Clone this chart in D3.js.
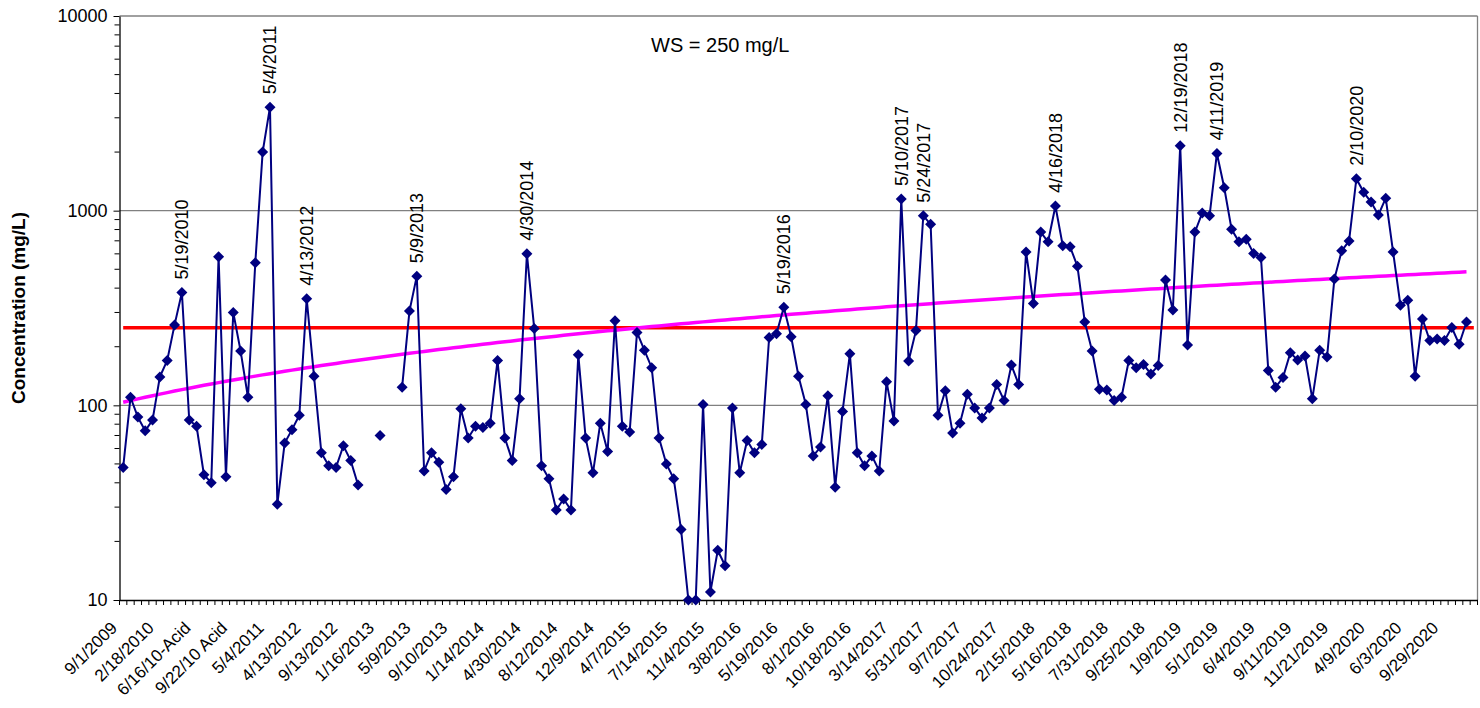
<!DOCTYPE html>
<html>
<head>
<meta charset="utf-8">
<script src="https://cdn.jsdelivr.net/npm/d3@7"></script>
<style>
  body { margin: 0; background: #fff; }
  text { font-family: "Liberation Sans", Arial, sans-serif; fill: #000; }
</style>
</head>
<body>
<div id="chart"></div>
<script>
// category axis labels, one every 5 samples
const tickLabels = ["9/1/2009", "2/18/2010", "6/16/10-Acid", "9/22/10 Acid", "5/4/2011", "4/13/2012",
  "9/13/2012", "1/16/2013", "5/9/2013", "9/10/2013", "1/14/2014", "4/30/2014", "8/12/2014",
  "12/9/2014", "4/7/2015", "7/14/2015", "11/4/2015", "3/8/2016", "5/19/2016", "8/1/2016",
  "10/18/2016", "3/14/2017", "5/31/2017", "9/7/2017", "10/24/2017", "2/15/2018", "5/16/2018",
  "7/31/2018", "9/25/2018", "1/9/2019", "5/1/2019", "6/4/2019", "9/11/2019", "11/21/2019",
  "4/9/2020", "6/3/2020", "9/29/2020"];
const labelStep = 5;

// concentration (mg/L), one per sample, null = no sample
const values = [
  48, 110, 87, 74, 84, 140, 170, 259, 380, 84,
  78, 44, 40, 580, 43, 300, 190, 110, 540, 2000,
  3400, 31, 64, 75, 89, 353, 141, 57, 49, 48,
  62, 52, 39, null, null, 70, null, null, 124, 305,
  461, 46, 57, 51, 37, 43, 96, 68, 78, 77,
  81, 170, 68, 52, 108, 600, 248, 49, 42, 29,
  33, 29, 182, 68, 45, 81, 58, 272, 78, 73,
  237, 192, 156, 68, 50, 42, 23, 10, 10, 101,
  11, 18, 15, 97, 45, 66, 57, 63, 223, 233,
  319, 225, 141, 101, 55, 61, 112, 38, 93, 184,
  57, 49, 55, 46, 132, 83, 1148, 169, 242, 942,
  851, 89, 119, 72, 81, 114, 97, 86, 97, 128,
  106, 161, 128, 614, 334, 776, 692, 1057, 661, 652,
  518, 268, 190, 121, 120, 106, 110, 170, 156, 162,
  145, 160, 440, 309, 2158, 204, 776, 973, 942, 1968,
  1312, 802, 692, 714, 603, 575, 151, 124, 139, 186,
  171, 179, 108, 192, 177, 445, 622, 698, 1459, 1242,
  1107, 951, 1159, 614, 327, 347, 141, 278, 215, 219,
  215, 251, 206, 268, null
];

// water standard
const wsLimit = 250;
const wsText = "WS = 250 mg/L";

// labelled peaks
const peakIndex = [8, 20, 25, 40, 55, 90, 106, 109, 127, 144, 149, 168];
const peakLabels = ["5/19/2010", "5/4/2011", "4/13/2012", "5/9/2013", "4/30/2014", "5/19/2016",
  "5/10/2017", "5/24/2017", "4/16/2018", "12/19/2018", "4/11/2019", "2/10/2020"];

const yTicks = [10, 100, 1000, 10000];

const W = 1480, H = 708;
const plot = {left: 119.5, right: 1477.5, top: 16, bottom: 600};

const svg = d3.select("#chart")
  .append("svg")
    .attr("width", W)
    .attr("height", H);

svg.append("rect").attr("width", W).attr("height", H).attr("fill", "#fff");

const idx = d3.range(values.length);

const x = d3.scaleBand()
  .domain(idx)
  .range([plot.left, plot.right])
  .padding(0);
const cx = i => x(i) + x.bandwidth() / 2;

const y = d3.scaleLog()
  .domain([10, 10000])
  .range([plot.bottom, plot.top]);

// gridlines + plot border
svg.append("g")
  .selectAll("line")
  .data(yTicks.slice(1))
  .join("line")
    .attr("x1", plot.left)
    .attr("x2", plot.right)
    .attr("y1", d => y(d))
    .attr("y2", d => y(d))
    .attr("stroke", "#808080")
    .attr("stroke-width", 1.3);
svg.append("line")
  .attr("x1", plot.right).attr("x2", plot.right)
  .attr("y1", plot.top).attr("y2", plot.bottom)
  .attr("stroke", "#808080")
  .attr("stroke-width", 1.3);

// Y axis
const yAxis = svg.append("g")
  .attr("transform", `translate(${plot.left},0)`)
  .call(d3.axisLeft(y).tickValues(yTicks).tickFormat(d3.format("d")).tickSize(6).tickSizeOuter(0).tickPadding(6));
yAxis.select(".domain").attr("stroke", "#000").attr("stroke-width", 1.3);
yAxis.selectAll("text").style("font-size", "18px").attr("fill", "#000");

// minor log ticks
const minor = [];
[10, 100, 1000].forEach(dec => d3.range(2, 10).forEach(m => minor.push(dec * m)));
svg.append("g")
  .selectAll("line")
  .data(minor)
  .join("line")
    .attr("x1", plot.left - 5)
    .attr("x2", plot.left)
    .attr("y1", d => y(d))
    .attr("y2", d => y(d))
    .attr("stroke", "#000");

// X axis
const xAxis = svg.append("g")
  .attr("transform", `translate(0,${plot.bottom})`)
  .call(d3.axisBottom(x)
    .tickValues(tickLabels.map((d, i) => i * labelStep))
    .tickFormat(i => tickLabels[i / labelStep])
    .tickSize(0)
    .tickSizeOuter(0));
xAxis.select(".domain").attr("stroke", "#000").attr("stroke-width", 1.3);
xAxis.selectAll("text")
  .style("font-size", "17px")
  .attr("text-anchor", "end")
  .attr("x", -24)
  .attr("y", 11)
  .attr("dy", "0.35em")
  .attr("transform", "rotate(-45)");

// category boundary ticks
svg.append("g")
  .selectAll("line")
  .data(d3.range(values.length + 1))
  .join("line")
    .attr("x1", i => plot.left + i * x.bandwidth())
    .attr("x2", i => plot.left + i * x.bandwidth())
    .attr("y1", plot.bottom)
    .attr("y2", plot.bottom + 5)
    .attr("stroke", "#000");

// WS limit line
svg.append("path")
  .datum(idx)
  .attr("fill", "none")
  .attr("stroke", "#ff0000")
  .attr("stroke-width", 3.5)
  .attr("d", d3.line().x(i => cx(i)).y(() => y(wsLimit)));

// linear trend (least squares over sample number)
const pts = idx.filter(i => values[i] != null);
const mx = d3.mean(pts), my = d3.mean(pts, i => values[i]);
const slope = d3.sum(pts, i => (i - mx) * (values[i] - my)) / d3.sum(pts, i => (i - mx) * (i - mx));
const icpt = my - slope * mx;
const trendIdx = d3.range(pts[0], pts[pts.length - 1] + 1);
svg.append("path")
  .datum(trendIdx)
  .attr("fill", "none")
  .attr("stroke", "#ff00ff")
  .attr("stroke-width", 3.5)
  .attr("d", d3.line().x(i => cx(i)).y(i => y(icpt + slope * i)));

// concentration line
svg.append("path")
  .datum(idx)
  .attr("fill", "none")
  .attr("stroke", "#000080")
  .attr("stroke-width", 2)
  .attr("d", d3.line()
    .defined(i => values[i] != null)
    .x(i => cx(i))
    .y(i => y(values[i])));

// diamond markers
svg.append("g")
  .selectAll("path")
  .data(pts)
  .join("path")
    .attr("transform", i => `translate(${cx(i)},${y(values[i])})`)
    .attr("d", "M0,-5.5L5.5,0L0,5.5L-5.5,0Z")
    .attr("fill", "#000080");

// peak labels
svg.append("g")
  .selectAll("text")
  .data(peakIndex)
  .join("text")
    .attr("transform", i => `translate(${cx(i)},${y(values[i]) - 13}) rotate(-90)`)
    .attr("dy", "0.35em")
    .style("font-size", "18px")
    .text((d, k) => peakLabels[k]);

// WS annotation
svg.append("text")
  .attr("x", 651)
  .attr("y", 52)
  .style("font-size", "20px")
  .text(wsText);

// Y title
svg.append("text")
  .attr("transform", `translate(25,${(plot.top + plot.bottom) / 2}) rotate(-90)`)
  .attr("text-anchor", "middle")
  .style("font-size", "19px")
  .style("font-weight", "bold")
  .text("Concentration (mg/L)");
</script>
</body>
</html>
